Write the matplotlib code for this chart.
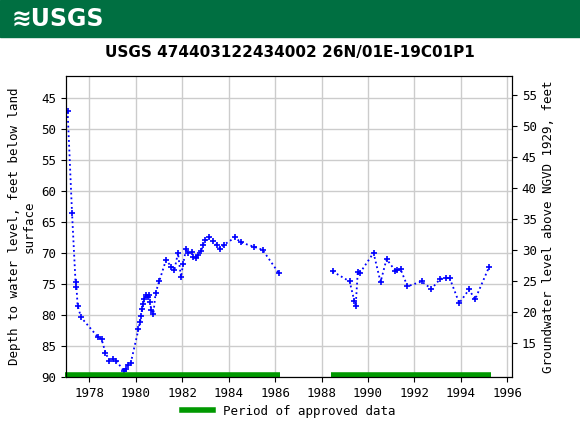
import matplotlib
matplotlib.use("Agg")
import matplotlib.pyplot as plt
import numpy as np

# field measurements, decimal year vs depth below land surface (ft)
yr1 = [1977.07, 1977.26, 1977.41, 1977.45, 1977.50, 1977.65, 1978.36, 1978.53, 1978.70, 1978.87,
       1979.04, 1979.17, 1979.50, 1979.58, 1979.65, 1979.79, 1980.12, 1980.18, 1980.24, 1980.27,
       1980.32, 1980.37, 1980.44, 1980.51, 1980.58, 1980.60, 1980.68, 1980.76, 1980.86, 1981.02,
       1981.30, 1981.54, 1981.67, 1981.82, 1981.95, 1982.04, 1982.17, 1982.25, 1982.42, 1982.48,
       1982.58, 1982.67, 1982.81, 1982.90, 1983.00, 1983.17, 1983.34, 1983.51, 1983.64, 1983.80,
       1984.28, 1984.52, 1985.08, 1985.46, 1986.15]
dep1 = [47.2, 63.6, 74.7, 75.5, 78.5, 80.4, 83.5, 83.9, 86.1, 87.4,
        87.1, 87.4, 89.1, 88.7, 88.0, 87.7, 82.3, 81.2, 80.2, 79.1,
        78.2, 77.4, 76.8, 77.1, 76.8, 77.9, 79.2, 79.8, 76.4, 74.5,
        71.2, 72.2, 72.7, 70.0, 73.9, 71.8, 69.4, 70.0, 69.9, 70.6,
        70.9, 70.4, 69.7, 68.8, 68.0, 67.5, 68.1, 68.8, 69.3, 68.7,
        67.5, 68.3, 69.0, 69.5, 73.2]
yr2 = [1988.48, 1989.21, 1989.41, 1989.47, 1989.56, 1989.66, 1990.24, 1990.54, 1990.80, 1991.18,
       1991.27, 1991.40, 1991.70, 1992.31, 1992.73, 1993.11, 1993.38, 1993.51, 1993.93, 1994.35,
       1994.61, 1995.21]
dep2 = [73.0, 74.6, 77.7, 78.6, 73.1, 73.2, 70.0, 74.7, 71.0, 72.9,
        72.8, 72.6, 75.4, 74.6, 75.8, 74.2, 74.0, 74.0, 78.1, 75.9,
        77.5, 72.3]
approved = [(1976.97, 1986.2), (1988.4, 1995.3)]
datum = 99.6  # land surface elevation, ft NGVD 1929

fig = plt.figure(figsize=(5.8, 4.3), dpi=100)

# USGS banner
fig.patches.append(plt.Rectangle((0, 1 - 37/430), 1, 37/430, transform=fig.transFigure,
                                 color="#006f41", zorder=0))
fig.text(0.02, 1 - 19/430, "≋USGS", color="white", fontsize=17, fontweight="bold",
         va="center", family="DejaVu Sans")
fig.text(0.5, 1 - 52/430, "USGS 474403122434002 26N/01E-19C01P1", ha="center", va="center",
         fontsize=11, fontweight="bold", family="DejaVu Sans")

ax = fig.add_axes([66/580, 1 - 377/430, 446/580, 301/430])
for x, y in [(yr1, dep1), (yr2, dep2)]:
    ax.plot(x, y, color="blue", ls=":", lw=1.3, marker="+", ms=4, mew=1.2)
for a, b in approved:
    ax.plot([a, b], [89.6, 89.6], color="#009900", lw=4, solid_capstyle="butt", clip_on=False)

ax.set_xlim(1977.0, 1996.2)
ax.set_ylim(90, 41.5)
ax.set_xticks(np.arange(1978, 1997, 2))
ax.set_yticks(np.arange(45, 91, 5))
ax.grid(color="#cccccc", lw=1)
ax.set_axisbelow(True)
mono = "DejaVu Sans Mono"
for lbl in ax.get_xticklabels() + ax.get_yticklabels():
    lbl.set_family(mono)
    lbl.set_fontsize(9)
ax.set_ylabel("Depth to water level, feet below land\nsurface", family=mono, fontsize=9)

ax2 = ax.twinx()
ax2.set_ylim(datum - 90, datum - 41.5)
ax2.set_yticks(np.arange(15, 56, 5))
for lbl in ax2.get_yticklabels():
    lbl.set_family(mono)
    lbl.set_fontsize(9)
ax2.set_ylabel("Groundwater level above NGVD 1929, feet", family=mono, fontsize=9)

ax.plot([], [], color="#009900", lw=4, label="Period of approved data")
leg = ax.legend(loc="upper center", bbox_to_anchor=(0.5, -0.055), frameon=False,
                prop={"family": mono, "size": 9}, handlelength=2.5)

fig.savefig("out.png", dpi=100)
